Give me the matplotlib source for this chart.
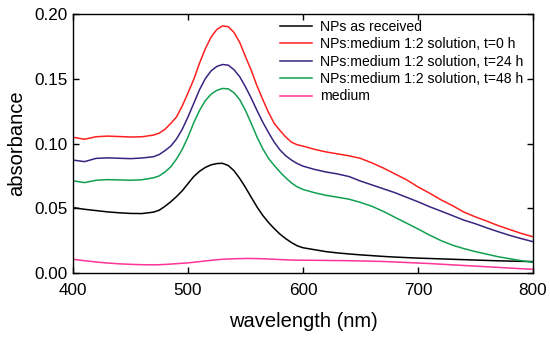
import matplotlib
matplotlib.use("Agg")
import matplotlib.pyplot as plt

plt.rcParams['font.family'] = ['Liberation Sans', 'DejaVu Sans']

wavelength = [400, 410, 420, 430, 440, 450, 460,
              470, 475, 480, 485, 490, 495, 500, 505, 510, 515, 520, 525, 530, 535,
              540, 545, 550, 555, 560, 565, 570, 575, 580, 585, 590, 595, 600,
              610, 620, 630, 640, 650, 660, 670, 680, 690, 700, 710, 720, 730, 740,
              750, 760, 770, 780, 790, 800]

np_received = [0.0505, 0.0492, 0.0482, 0.0472, 0.0465, 0.046, 0.0459,
               0.047, 0.0485, 0.0515, 0.055, 0.059, 0.0635, 0.069, 0.0745, 0.0785, 0.0815,
               0.0835, 0.0845, 0.0847, 0.083, 0.079, 0.073, 0.066, 0.0585, 0.051, 0.0445,
               0.039, 0.0343, 0.030, 0.0265, 0.0235, 0.021, 0.0195,
               0.018, 0.0165, 0.0155, 0.0147, 0.014, 0.0134, 0.0128, 0.0123, 0.0119, 0.0115,
               0.0112, 0.0109, 0.0106, 0.0103, 0.0100, 0.0097, 0.0094, 0.0092, 0.009, 0.0088]

sol_t0 = [0.1048, 0.1033, 0.1052, 0.1057, 0.1054, 0.1050, 0.1052,
          0.1065, 0.108, 0.111, 0.1155, 0.1205, 0.129, 0.139, 0.1495, 0.162, 0.173,
          0.182, 0.188, 0.1908, 0.1902, 0.1858, 0.178, 0.167, 0.1565, 0.1445, 0.134,
          0.124, 0.1155, 0.110, 0.105, 0.101, 0.099, 0.098,
          0.0955, 0.0935, 0.092, 0.0905, 0.0885, 0.085, 0.081, 0.0765, 0.072, 0.0665,
          0.0617, 0.0565, 0.052, 0.047, 0.0433, 0.040, 0.0365, 0.0335, 0.0305, 0.028]

sol_t24 = [0.0872, 0.086, 0.0885, 0.0889, 0.0886, 0.0883, 0.0888,
           0.0898, 0.0915, 0.0945, 0.098, 0.1035, 0.111, 0.1205, 0.131, 0.1415, 0.150,
           0.156, 0.1595, 0.161, 0.1605, 0.157, 0.1515, 0.1437, 0.135, 0.1255, 0.1165,
           0.1085, 0.101, 0.095, 0.0905, 0.0872, 0.0845, 0.0825,
           0.080, 0.078, 0.0765, 0.0745, 0.071, 0.068, 0.065, 0.062, 0.0585, 0.055,
           0.0512, 0.0478, 0.0443, 0.0408, 0.038, 0.0348, 0.0318, 0.029, 0.0265, 0.0242]

sol_t48 = [0.0712, 0.0698, 0.0716, 0.0721, 0.0719, 0.0716, 0.0720,
           0.0735, 0.075, 0.078, 0.082, 0.088, 0.0955, 0.105, 0.116, 0.1255, 0.133,
           0.138, 0.141, 0.1425, 0.1422, 0.1392, 0.1338, 0.1255, 0.1155, 0.105, 0.096,
           0.0885, 0.083, 0.078, 0.0735, 0.0695, 0.0665, 0.0645,
           0.062, 0.060, 0.0585, 0.057, 0.0545, 0.0515, 0.0475, 0.043, 0.0385, 0.034,
           0.0293, 0.025, 0.0215, 0.0188, 0.0165, 0.0145, 0.0125, 0.011, 0.0095, 0.0082]

medium = [0.0106, 0.0095, 0.0085, 0.0077, 0.0071, 0.0067, 0.0064,
          0.0063, 0.0064, 0.0066, 0.0069, 0.0072, 0.0075, 0.0078, 0.0083, 0.0088, 0.0093,
          0.0098, 0.0102, 0.0106, 0.0108, 0.011, 0.0111, 0.0112, 0.0112, 0.0111, 0.011,
          0.0108, 0.0106, 0.0104, 0.0102, 0.010, 0.0099, 0.0099,
          0.0098, 0.0097, 0.0096, 0.0095, 0.0093, 0.0091, 0.0089, 0.0085, 0.0081, 0.0077,
          0.0073, 0.0068, 0.0063, 0.0058, 0.0053, 0.0048, 0.0043, 0.0038, 0.0033, 0.0028]

labels = ["NPs as received",
          "NPs:medium 1:2 solution, t=0 h",
          "NPs:medium 1:2 solution, t=24 h",
          "NPs:medium 1:2 solution, t=48 h",
          "medium"]
colors = ["#000000", "#FF2020", "#3A2380", "#10A050", "#FF3399"]
series = [np_received, sol_t0, sol_t24, sol_t48, medium]

fig = plt.figure(figsize=(5.5, 3.37), dpi=100)
ax = fig.add_axes([73/550, 1-273/337, (533-73)/550, (273-14)/337])

for ys, c, lab in zip(series, colors, labels):
    ax.plot(wavelength, ys, color=c, lw=1.1, label=lab)

ax.set_xlim(400, 800)
ax.set_ylim(0, 0.20)
ax.set_xticks([400, 500, 600, 700, 800])
ax.set_yticks([0.00, 0.05, 0.10, 0.15, 0.20])
ax.set_yticklabels(["0.00", "0.05", "0.10", "0.15", "0.20"])
ax.tick_params(direction='in', length=4, width=1, top=True, right=True,
               labelsize=12.3, colors='black')
ax.tick_params(axis='x', pad=7)
ax.tick_params(axis='y', pad=4)
for s in ax.spines.values():
    s.set_linewidth(1.0)

ax.set_xlabel("wavelength (nm)", fontsize=14.5, labelpad=10)
ax.set_ylabel("absorbance", fontsize=14.5, labelpad=6)

leg = ax.legend(loc='upper left', bbox_to_anchor=((280-73)/460, 1-(20-14)/259),
                frameon=False, fontsize=10.1, handlelength=2.25, handletextpad=0.6,
                labelspacing=0.24, borderpad=0, borderaxespad=0)

fig.savefig("out.png", dpi=100)
